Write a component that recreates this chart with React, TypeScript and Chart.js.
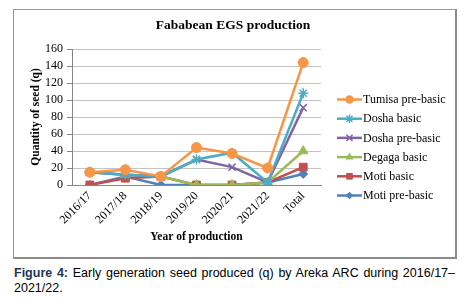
import React, { useEffect, useRef } from 'react';
import { Chart, registerables } from 'chart.js';
Chart.register(...registerables);

const categories = ['2016/17', '2017/18', '2018/19', '2019/20', '2020/21', '2021/22', 'Total'];
const tumisaPreBasic = [15, 18, 10, 44, 37, 20, 144];
const doshaBasic = [15, 12, 10, 30, 38, 3, 108];
const doshaPreBasic = [15, 12, 10, 30, 21, 3, 91];
const degagaBasic = [15, 12, 10, 0, 0, 3, 40];
const motiBasic = [0, 8, 10, 0, 0, 3, 21];
const motiPreBasic = [0, 10, 0, 0, 0, 3, 13];
const seriesNames = ['Tumisa pre-basic', 'Dosha basic', 'Dosha pre-basic', 'Degaga basic', 'Moti basic', 'Moti pre-basic'];
const seriesValues = [tumisaPreBasic, doshaBasic, doshaPreBasic, degagaBasic, motiBasic, motiPreBasic];
const seriesColors = ['#F79646', '#4BACC6', '#8064A2', '#9BBB59', '#C0504D', '#4F81BD'];
const seriesMarkers = ['circle', 'star', 'crossRot', 'triangle', 'rect', 'rectRot'];
const markerSizes = [5, 5, 5, 5.5, 5.5, 4.5];
const yMin = 0;
const yMax = 160;
const yStep = 20;
const title = 'Fababean EGS production';
const xTitle = 'Year of production';
const yTitle = 'Quantity of seed (q)';

const SERIF = '"Liberation Serif", "Times New Roman", serif';

function drawMarker(ctx: CanvasRenderingContext2D, style: string, x: number, y: number, r: number, color: string) {
  ctx.save();
  ctx.fillStyle = color;
  ctx.strokeStyle = color;
  ctx.lineWidth = 1.5;
  ctx.beginPath();
  if (style === 'circle') {
    ctx.arc(x, y, r, 0, Math.PI * 2);
    ctx.fill();
  } else if (style === 'rect') {
    const s = Math.SQRT1_2 * r;
    ctx.rect(x - s, y - s, 2 * s, 2 * s);
    ctx.fill();
  } else if (style === 'rectRot') {
    ctx.moveTo(x, y - r);
    ctx.lineTo(x + r, y);
    ctx.lineTo(x, y + r);
    ctx.lineTo(x - r, y);
    ctx.closePath();
    ctx.fill();
  } else if (style === 'triangle') {
    ctx.moveTo(x, y - r);
    ctx.lineTo(x + r * 0.866, y + r * 0.5);
    ctx.lineTo(x - r * 0.866, y + r * 0.5);
    ctx.closePath();
    ctx.fill();
  } else if (style === 'crossRot' || style === 'star') {
    const d = r * Math.SQRT1_2;
    ctx.moveTo(x - d, y - d); ctx.lineTo(x + d, y + d);
    ctx.moveTo(x + d, y - d); ctx.lineTo(x - d, y + d);
    if (style === 'star') {
      ctx.moveTo(x, y - r); ctx.lineTo(x, y + r);
      ctx.moveTo(x - r, y); ctx.lineTo(x + r, y);
    }
    ctx.stroke();
  }
  ctx.restore();
}

const overlayPlugin = {
  id: 'overlay',
  afterDraw(chart: any) {
    const ctx: CanvasRenderingContext2D = chart.ctx;
    const ca = chart.chartArea;
    ctx.save();
    ctx.fillStyle = '#000';
    ctx.textAlign = 'center';
    ctx.textBaseline = 'middle';
    ctx.font = `bold 13.5px ${SERIF}`;
    ctx.fillText(title, 218, 15);
    ctx.font = `bold 11.5px ${SERIF}`;
    ctx.fillText(xTitle, (ca.left + ca.right) / 2, 226.5);
    ctx.save();
    ctx.translate(21, (ca.top + ca.bottom) / 2);
    ctx.rotate(-Math.PI / 2);
    ctx.fillText(yTitle, 0, 0);
    ctx.restore();

    // legend
    ctx.font = `12px ${SERIF}`;
    ctx.textAlign = 'left';
    seriesNames.forEach((name, i) => {
      const y = 88.5 + i * 19.2;
      ctx.strokeStyle = seriesColors[i];
      ctx.lineWidth = 2.5;
      ctx.beginPath();
      ctx.moveTo(322, y);
      ctx.lineTo(347, y);
      ctx.stroke();
      drawMarker(ctx, seriesMarkers[i], 334.5, y, markerSizes[i] * 0.85, seriesColors[i]);
      ctx.fillStyle = '#000';
      ctx.fillText(name, 348, y + 0.5);
    });
    ctx.restore();
  },
};

function ChartCanvas() {
  const ref = useRef<HTMLCanvasElement | null>(null);
  useEffect(() => {
    if (!ref.current) return;
    const chart = new Chart(ref.current, {
      type: 'line',
      data: {
        labels: categories,
        datasets: seriesNames.map((name, i) => ({
          label: name,
          data: seriesValues[i],
          borderColor: seriesColors[i],
          backgroundColor: seriesColors[i],
          pointBackgroundColor: seriesColors[i],
          pointBorderColor: seriesColors[i],
          pointStyle: seriesMarkers[i] as any,
          pointRadius: markerSizes[i],
          pointBorderWidth: seriesMarkers[i] === 'star' || seriesMarkers[i] === 'crossRot' ? 1.5 : 1,
          borderWidth: 2.5,
          tension: 0,
          fill: false,
        })),
      },
      options: {
        animation: false,
        responsive: false,
        maintainAspectRatio: false,
        layout: { padding: { top: 38, right: 134, left: 0, bottom: 0 } },
        plugins: {
          legend: { display: false },
          title: { display: false },
          tooltip: { enabled: false },
        },
        scales: {
          x: {
            offset: true,
            grid: { display: false, drawTicks: false },
            border: { display: true, color: '#868686', width: 1 },
            ticks: {
              autoSkip: false,
              minRotation: 45,
              maxRotation: 45,
              padding: 4,
              color: '#000',
              font: { family: SERIF, size: 12 },
            },
            afterFit: (scale: any) => { scale.height = 73; },
          },
          y: {
            min: yMin,
            max: yMax,
            ticks: {
              stepSize: yStep,
              autoSkip: false,
              padding: 4,
              color: '#000',
              font: { family: SERIF, size: 12 },
            },
            grid: { color: '#c3c3c3', lineWidth: 1, tickLength: 5, drawTicks: true, tickColor: '#868686' },
            border: { display: true, color: '#868686', width: 1 },
            afterFit: (scale: any) => { scale.width = 57; },
          },
        },
      },
      plugins: [overlayPlugin],
    });
    return () => chart.destroy();
  }, []);
  return <canvas ref={ref} width={440} height={247} style={{ position: 'absolute', left: 1, top: 1, width: 440, height: 247 }} />;
}

export default function App() {
  return (
    <div style={{ position: 'absolute', left: 0, top: 0, width: 470, height: 298, background: '#fff', overflow: 'hidden' }}>
      <div
        style={{
          position: 'absolute',
          left: 13,
          top: 9,
          width: 441,
          height: 247,
          borderTop: '1px solid #9a9a9a',
          borderLeft: '1px solid #9a9a9a',
          borderRight: '2px solid #8a8a8a',
          borderBottom: '2px solid #8a8a8a',
          background: '#fff',
        }}
      >
        <ChartCanvas />
      </div>
      <div
        style={{
          position: 'absolute',
          left: 14,
          top: 266,
          width: 441,
          fontFamily: '"Liberation Sans", Arial, sans-serif',
          fontSize: 12.5,
          lineHeight: '14.5px',
          textAlign: 'justify',
          color: '#000',
        }}
      >
        <span style={{ fontWeight: 'bold', color: '#1d3557' }}>Figure 4:</span> Early generation seed produced (q) by Areka ARC during 2016/17–2021/22.
      </div>
    </div>
  );
}
